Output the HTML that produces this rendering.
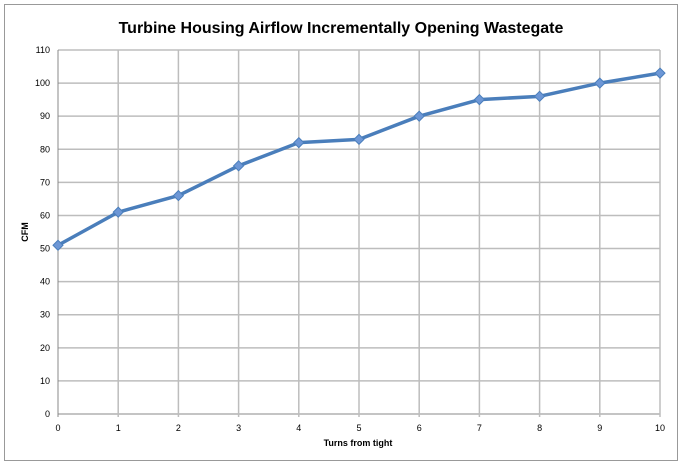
<!DOCTYPE html>
<html><head><meta charset="utf-8"><style>
body{margin:0;background:#fff}
text{font-family:"Liberation Sans",sans-serif}
</style></head><body>
<svg id="c" width="682" height="466" xmlns="http://www.w3.org/2000/svg">
<rect x="4.5" y="4.5" width="673" height="456" fill="#fff" stroke="#999" stroke-width="1"/>
<text x="341" y="33" text-anchor="middle" font-size="16" font-weight="bold" fill="#000">Turbine Housing Airflow Incrementally Opening Wastegate</text>
<g id="grid"></g><g id="ticks"></g><g id="series"></g>
<text x="358" y="446" text-anchor="middle" font-size="9" font-weight="bold">Turns from tight</text>
<text transform="translate(28,232) rotate(-90)" text-anchor="middle" font-size="9" font-weight="bold">CFM</text>
</svg>
<script>
const categories=[0,1,2,3,4,5,6,7,8,9,10];
const cfmValues=[51,61,66,75,82,83,90,95,96,100,103];
const yTicks=[0,10,20,30,40,50,60,70,80,90,100,110];
const NS="http://www.w3.org/2000/svg";
const X0=58,X1=660,Y0=414,Y1=50;
const xs=v=>X0+(v-0)/(10-0)*(X1-X0);
const ys=v=>Y0-(v/110)*(Y0-Y1);
function mk(t,a,p){const e=document.createElementNS(NS,t);for(const k in a)e.setAttribute(k,a[k]);p.appendChild(e);return e;}
const g=document.getElementById('grid'),tk=document.getElementById('ticks'),s=document.getElementById('series');
yTicks.forEach(v=>{
 const l=mk('line',{x1:X0,x2:X1,y1:ys(v),y2:ys(v),stroke:v===0?'#888':'#bdbdbd','stroke-width':v===0?1:1.5},g);
 
 
 const t=mk('text',{x:X0-8,y:ys(v)+3,'text-anchor':'end','font-size':9,fill:'#000'},tk);t.textContent=v;
 
 
});
categories.forEach(c=>{
 const l=mk('line',{x1:xs(c),x2:xs(c),y1:Y1,y2:Y0+3,stroke:c===0?'#888':'#bdbdbd','stroke-width':c===0?1:1.5},g);
 
 
 const t=mk('text',{x:xs(c),y:Y0+17,'text-anchor':'middle','font-size':9,fill:'#000'},tk);t.textContent=c;
 
 
});
const pts=categories.map((c,i)=>xs(c)+','+ys(cfmValues[i])).join(' ');
const pl=mk('polyline',{points:pts,fill:'none',stroke:'#4a7ebb','stroke-width':3.5,'stroke-linejoin':'round'},s);


categories.forEach((c,i)=>{
 const x=xs(c),y=ys(cfmValues[i]);
 const m=mk('polygon',{points:`${x},${y-5} ${x+5},${y} ${x},${y+5} ${x-5},${y}`,fill:'#6d97d6',stroke:'#4a7ebb','stroke-width':1},s);
 
 
});
</script>
</body></html>
